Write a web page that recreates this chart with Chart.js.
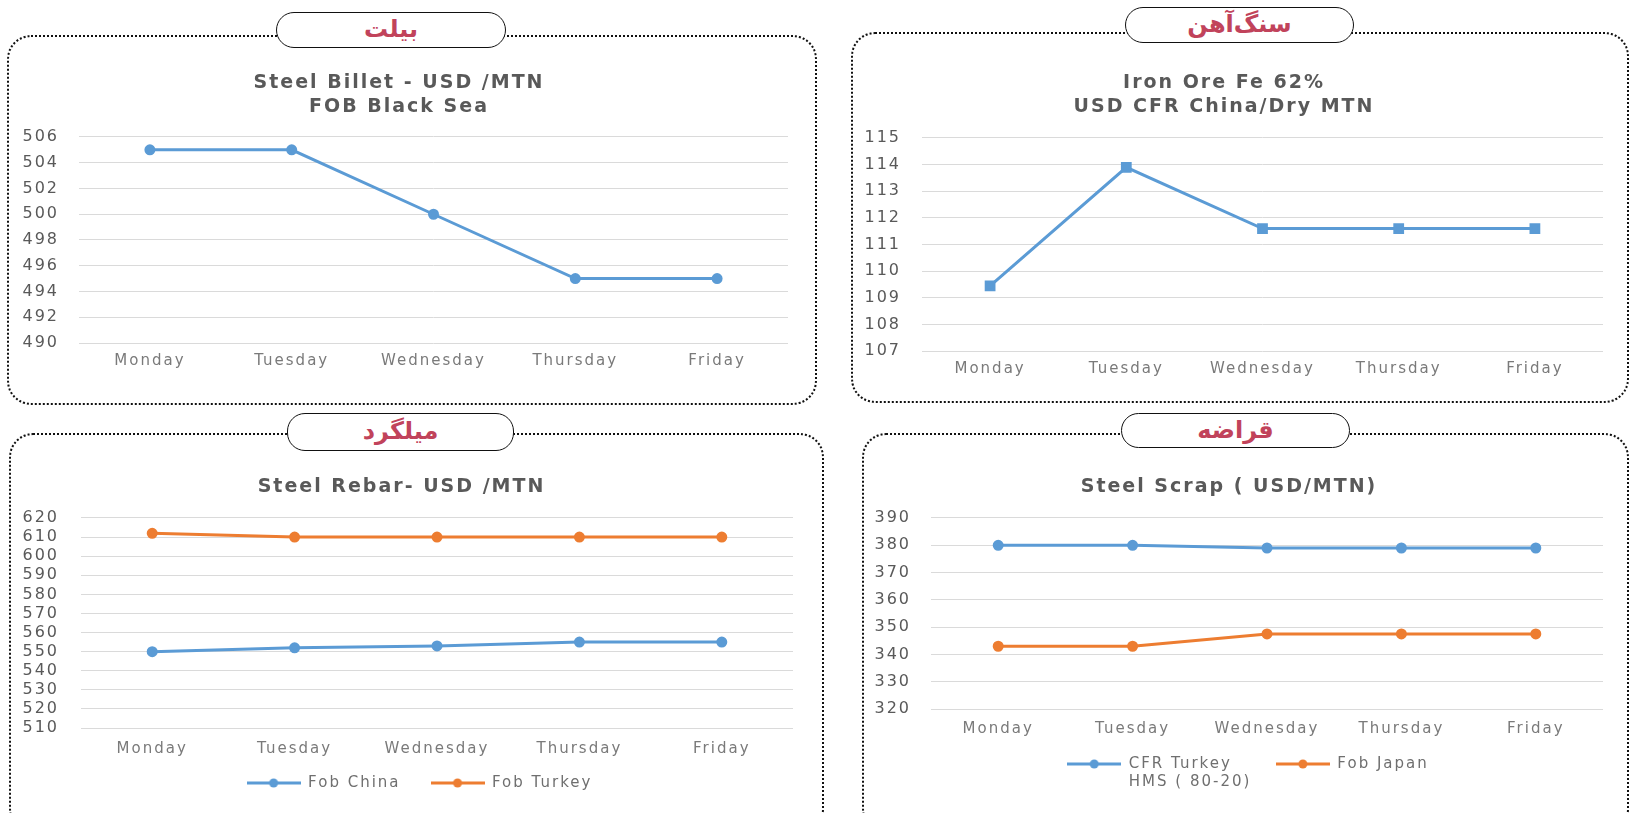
<!DOCTYPE html>
<html>
<head>
<meta charset="utf-8">
<title>Steel prices</title>
<script src="https://cdn.jsdelivr.net/npm/chart.js@4.4.0/dist/chart.umd.min.js"></script>
<style>
  body { margin: 0; background: #fff; width: 1636px; height: 813px; overflow: hidden; position: relative; }
  .panel { position: absolute; border: 2px dotted #111; border-radius: 24px; box-sizing: border-box; }
  .tab { position: absolute; background: #fff; border: 1.5px solid #111; border-radius: 18px; box-sizing: border-box;
         text-align: center; color: #c1435b; font: bold 24px "DejaVu Sans"; direction: rtl; }
  .box { position: absolute; }
</style>
</head>
<body>
<div class="panel" style="left:7px;top:35px;width:810px;height:370px"></div>
<div class="panel" style="left:851px;top:32px;width:778px;height:371px"></div>
<div class="panel" style="left:9px;top:433px;width:815px;height:400px"></div>
<div class="panel" style="left:862px;top:433px;width:767px;height:400px"></div>

<div class="tab" style="left:276px;top:12px;width:230px;height:36px;line-height:33px">بیلت</div>
<div class="tab" style="left:1125px;top:7px;width:229px;height:36px;line-height:33px">سنگ‌آهن</div>
<div class="tab" style="left:287px;top:413px;width:227px;height:38px;line-height:35px">میلگرد</div>
<div class="tab" style="left:1121px;top:413px;width:229px;height:35px;line-height:32px">قراضه</div>

<div class="box" style="left:10px;top:55px;width:800px;height:345px"><canvas id="billet"></canvas></div>
<div class="box" style="left:845px;top:55px;width:785px;height:345px"><canvas id="ore"></canvas></div>
<div class="box" style="left:10px;top:460px;width:800px;height:353px"><canvas id="rebar"></canvas></div>
<div class="box" style="left:855px;top:460px;width:775px;height:353px"><canvas id="scrap"></canvas></div>

<script>
var days = ['Monday', 'Tuesday', 'Wednesday', 'Thursday', 'Friday'];

var billetPrice = [505, 505, 500, 495, 495];
var orePrice = [109.45, 113.9, 111.6, 111.6, 111.6];
var rebarChina = [550, 552, 553, 555, 555];
var rebarTurkey = [612, 610, 610, 610, 610];
var scrapTurkey = [380, 380, 379, 379, 379];
var scrapJapan = [343, 343, 347.5, 347.5, 347.5];

var blue = '#5b9bd5';
var orange = '#ed7d31';
var textGrey = '#595959';
var legendGrey = '#6f6f6f';
var fontName = '"DejaVu Sans"';

// the screenshot text is stretched wide, so space the letters a bit
var wideText = {
    id: 'wideText',
    beforeUpdate: function (chart) { chart.ctx.letterSpacing = '2px'; },
    beforeDraw: function (chart) { chart.ctx.letterSpacing = '2px'; }
};

// nudge the legend into place + draw the 2nd line of a legend label under the first
var legendExtras = {
    id: 'legendExtras',
    afterLayout: function (chart, args, opts) {
        var lg = chart.legend;
        if (!lg) return;
        lg.left += opts.shiftX; lg.right += opts.shiftX;
        lg.top += opts.shiftY; lg.bottom += opts.shiftY;
    },
    afterDraw: function (chart, args, opts) {
        if (!opts.secondLine || !chart.legend.legendHitBoxes) return;
        var hb = chart.legend.legendHitBoxes[0];
        var ctx = chart.ctx;
        ctx.save();
        ctx.letterSpacing = '2px';
        ctx.font = '15px ' + fontName;
        ctx.fillStyle = legendGrey;
        ctx.textAlign = 'left';
        ctx.textBaseline = 'middle';
        ctx.fillText(opts.secondLine, hb.left + 54 + 7.5, hb.top + 7.5 + 18);
        ctx.restore();
    }
};

// little line + dot picture for the legend, like the spreadsheet one
function legendIcon(color) {
    var c = document.createElement('canvas');
    c.width = 54; c.height = 12;
    var g = c.getContext('2d');
    g.strokeStyle = color; g.lineWidth = 3;
    g.beginPath(); g.moveTo(0, 6); g.lineTo(54, 6); g.stroke();
    g.fillStyle = color;
    g.beginPath(); g.arc(27, 6, 4.5, 0, Math.PI * 2); g.fill();
    return c;
}

function series(label, values, color, style) {
    return {
        label: label,
        data: values,
        borderColor: color,
        backgroundColor: color,
        borderWidth: 3,
        pointStyle: style || 'circle',
        pointRadius: style === 'rect' ? 5.5 : 4,
        pointBackgroundColor: color,
        pointBorderColor: color,
        tension: 0,
        fill: false
    };
}

function makeChart(id, s) {
    var legendOn = !!s.legendText;
    new Chart(document.getElementById(id), {
        type: 'line',
        data: { labels: days, datasets: s.datasets },
        plugins: [wideText, legendExtras],
        options: {
            responsive: true,
            maintainAspectRatio: false,
            animation: false,
            layout: { padding: { left: 0, right: s.padRight, top: 0, bottom: s.padBottom } },
            plugins: {
                tooltip: { enabled: false },
                legendExtras: { shiftX: s.legendX || 0, shiftY: s.legendY || 0, secondLine: s.secondLine },
                title: {
                    display: true,
                    text: s.title,
                    color: textGrey,
                    font: { family: fontName, size: 19, weight: 'bold', lineHeight: 1.263 },
                    padding: { top: s.titleTop, bottom: s.titleBottom }
                },
                legend: {
                    display: legendOn,
                    position: 'bottom',
                    labels: {
                        usePointStyle: true,
                        pointStyleWidth: 54,
                        padding: s.legendPad || 20,
                        color: legendGrey,
                        font: { family: fontName, size: 15 },
                        generateLabels: function (chart) {
                            var items = Chart.defaults.plugins.legend.labels.generateLabels(chart);
                            if (!legendOn) return items;
                            items.forEach(function (it, i) {
                                it.pointStyle = legendIcon(s.datasets[i].borderColor);
                                it.text = s.legendText[i];
                            });
                            return items;
                        }
                    }
                }
            },
            scales: {
                x: {
                    offset: true,
                    grid: { display: false, drawTicks: false },
                    border: { display: false },
                    ticks: { color: '#7a7a7a', padding: s.xPad, font: { family: fontName, size: 15 }, maxRotation: 0, autoSkip: false },
                    afterFit: function (scale) { scale.height = s.xHeight; }
                },
                y: {
                    min: s.min, max: s.max,
                    grid: { color: '#dadada', lineWidth: 1, drawTicks: false },
                    border: { display: false },
                    ticks: { stepSize: s.step, autoSkip: false, color: textGrey, padding: s.yPad, font: { family: fontName, size: 16 } },
                    afterFit: function (scale) { scale.width = s.yWidth; }
                }
            }
        }
    });
}

makeChart('billet', {
    title: ['Steel Billet - USD /MTN', 'FOB Black Sea'],
    datasets: [series('Billet', billetPrice, blue)],
    min: 490, max: 506, step: 2,
    titleTop: 16, titleBottom: 18,
    xHeight: 57, xPad: 9, yWidth: 69, yPad: 20,
    padRight: 22, padBottom: 0
});

makeChart('ore', {
    title: ['Iron Ore Fe 62%', 'USD CFR China/Dry MTN'],
    datasets: [series('Iron ore', orePrice, blue, 'rect')],
    min: 107, max: 115, step: 1,
    titleTop: 16, titleBottom: 19,
    xHeight: 49, xPad: 9, yWidth: 77, yPad: 21,
    padRight: 27, padBottom: 0
});

makeChart('rebar', {
    title: 'Steel Rebar- USD /MTN',
    datasets: [series('Fob China', rebarChina, blue), series('Fob Turkey', rebarTurkey, orange)],
    legendText: ['Fob China', 'Fob Turkey'],
    legendX: 18, legendY: -12.5, legendPad: 30,
    min: 510, max: 620, step: 10,
    titleTop: 15, titleBottom: 19,
    xHeight: 30, xPad: 12, yWidth: 71, yPad: 22,
    padRight: 17, padBottom: 0
});

makeChart('scrap', {
    title: 'Steel Scrap ( USD/MTN)',
    datasets: [series('CFR Turkey HMS ( 80-20)', scrapTurkey, blue), series('Fob Japan', scrapJapan, orange)],
    legendText: ['CFR Turkey', 'Fob Japan'],
    secondLine: 'HMS ( 80-20)',
    legendX: 19, legendY: -26.5, legendPad: 44,
    min: 320, max: 390, step: 10,
    titleTop: 15, titleBottom: 19,
    xHeight: 30, xPad: 11, yWidth: 76, yPad: 20,
    padRight: 27, padBottom: 5
});
</script>
</body>
</html>
